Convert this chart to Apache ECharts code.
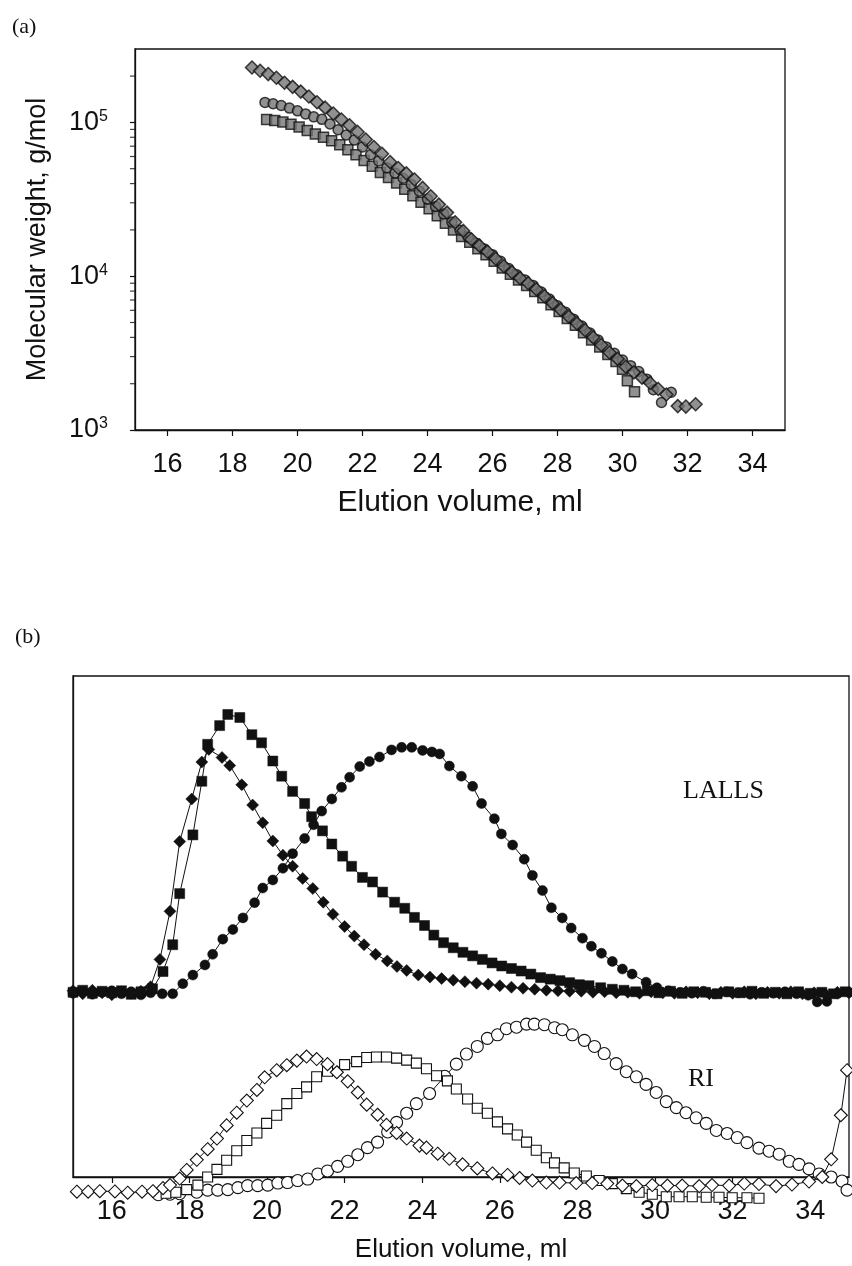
<!DOCTYPE html>
<html>
<head>
<meta charset="utf-8">
<script src="https://cdn.jsdelivr.net/npm/echarts@6/dist/echarts.min.js"></script>
<style>
  html, body { margin: 0; padding: 0; background: #fff; }
  #chart { width: 852px; height: 1266px; }
</style>
</head>
<body>
<div id="chart"></div>
<script>
// Tick values of the elution-volume axes (ml)
const volumeTicks = [16, 18, 20, 22, 24, 26, 28, 30, 32, 34];
// Minor ticks of the molecular-weight (log) axis, g/mol
const mwMinorTicks = [2000, 3000, 4000, 5000, 6000, 7000, 8000, 9000,
  20000, 30000, 40000, 50000, 60000, 70000, 80000, 90000, 200000];

// (a) Molecular weight vs elution volume: [volume ml, M g/mol]
const mwDiamonds = [
  [18.6,227500],[18.85,216800],[19.1,206100],[19.35,195000],[19.6,181100],[19.85,170200],
  [20.1,158500],[20.35,147200],[20.6,135200],[20.85,124700],[21.1,114300],[21.35,104500],
  [21.6,95700],[21.85,86700],[22.1,77300],[22.35,69200],[22.6,62500],[22.85,55200],
  [23.1,50500],[23.35,46600],[23.6,42500],[23.85,37500],[24.1,33100],[24.35,29200],
  [24.6,25900],[24.85,22400],[25.1,19700],[25.35,17400],[25.6,15800],[25.85,14400],
  [26.1,13000],[26.35,11600],[26.6,10600],[26.85,9700],[27.1,9000],[27.35,8220],
  [27.6,7400],[27.85,6680],[28.1,6050],[28.35,5460],[28.6,4930],[28.85,4450],
  [29.1,4000],[29.35,3570],[29.6,3190],[29.85,2900],[30.1,2580],[30.35,2370],
  [30.6,2190],[30.85,2020],[31.1,1850],[31.35,1700],[31.7,1430],[31.95,1420],[32.25,1470]
];
const mwCircles = [
  [19.0,134900],[19.25,132100],[19.5,128800],[19.75,123900],[20.0,118900],[20.25,113500],
  [20.5,108600],[20.75,104700],[21.0,97700],[21.25,89700],[21.5,82800],[21.75,76700],
  [22.0,69300],[22.25,61700],[22.5,56200],[22.75,50700],[23.0,46900],[23.25,43300],
  [23.5,39400],[23.75,35700],[24.0,31800],[24.25,28400],[24.5,25400],[24.75,22500],
  [25.0,19900],[25.25,17900],[25.5,16400],[25.75,15000],[26.0,13800],[26.25,12500],
  [26.5,11200],[26.75,10200],[27.0,9440],[27.25,8710],[27.5,7890],[27.75,7100],
  [28.0,6430],[28.25,5820],[28.5,5240],[28.75,4740],[29.0,4270],[29.25,3850],
  [29.5,3470],[29.75,3150],[30.0,2850],[30.25,2620],[30.5,2400],[30.75,2140],
  [30.95,1830],[31.2,1510],[31.5,1760]
];
const mwSquares = [
  [19.05,104500],[19.3,102800],[19.55,100500],[19.8,97300],[20.05,93300],[20.3,88700],
  [20.55,84100],[20.8,80000],[21.05,75900],[21.3,71600],[21.55,66400],[21.8,61700],
  [22.05,56600],[22.3,51900],[22.55,47300],[22.8,43800],[23.05,40300],[23.3,36700],
  [23.55,33400],[23.8,30200],[24.05,27400],[24.3,24700],[24.55,22100],[24.8,20000],
  [25.05,18100],[25.3,16600],[25.55,15100],[25.8,13800],[26.05,12500],[26.3,11300],
  [26.55,10300],[26.8,9440],[27.05,8710],[27.3,7940],[27.55,7240],[27.8,6530],
  [28.05,5890],[28.3,5310],[28.55,4790],[28.8,4290],[29.05,3850],[29.3,3470],
  [29.55,3100],[29.8,2790],[30.0,2480],[30.15,2090],[30.37,1770]
];

// (b) Detector signals (arbitrary units) vs elution volume: [volume ml, signal]
const lallsDiamonds = [
  [15.0,36.8],[15.25,36.2],[15.5,36.9],[15.75,36.4],[16.0,36.0],[16.25,36.6],[16.5,36.3],
  [16.75,36.7],[17.0,37.6],[17.24,43.0],[17.5,52.5],[17.75,66.3],[18.06,74.7],[18.32,82.0],
  [18.5,84.5],[18.84,82.9],[19.04,81.3],[19.35,77.5],[19.63,73.5],[19.89,70.0],[20.15,66.4],
  [20.41,63.6],[20.66,61.4],[20.92,59.0],[21.18,57.0],[21.45,54.3],[21.7,51.9],[22.0,49.5],
  [22.25,47.6],[22.5,45.9],[22.8,44.0],[23.1,42.7],[23.35,41.6],[23.6,40.8],[23.9,39.9],
  [24.2,39.5],[24.5,39.2],[24.8,38.9],[25.1,38.6],[25.4,38.3],[25.7,38.1],[26.0,37.8],
  [26.3,37.5],[26.6,37.3],[26.9,37.1],[27.2,36.9],[27.5,36.8],[27.8,36.7],[28.1,36.7],
  [28.4,36.5],[28.7,36.6],[29.0,36.4],[29.3,36.5],[29.6,36.3],[29.9,36.6],[30.2,36.4],
  [30.5,36.3],[30.8,36.6],[31.1,36.4],[31.4,36.2],[31.7,36.5],[32.0,36.3],[32.3,36.6],
  [32.6,36.2],[32.9,36.5],[33.2,36.3],[33.5,36.6],[33.8,36.2],[34.1,36.4],[34.4,36.1],
  [34.7,36.5],[35.0,36.4]
];
const lallsSquares = [
  [15.0,36.5],[15.25,36.9],[15.5,36.3],[15.75,36.7],[16.0,36.4],[16.25,36.8],[16.5,36.1],
  [16.75,36.6],[17.05,37.2],[17.32,40.6],[17.57,45.9],[17.75,56.0],[18.09,67.6],[18.32,78.2],
  [18.47,85.5],[18.78,89.2],[18.99,91.4],[19.3,90.8],[19.61,87.4],[19.86,85.8],[20.15,82.2],
  [20.38,79.2],[20.66,76.2],[20.97,73.8],[21.15,71.2],[21.43,68.4],[21.67,65.8],[21.95,63.4],
  [22.18,61.4],[22.46,59.2],[22.72,58.3],[22.98,56.3],[23.29,54.3],[23.55,53.1],[23.8,51.3],
  [24.06,49.7],[24.3,47.8],[24.55,46.3],[24.8,45.3],[25.05,44.4],[25.3,43.7],[25.55,43.0],
  [25.8,42.3],[26.05,41.7],[26.3,41.2],[26.55,40.7],[26.8,40.1],[27.05,39.4],[27.3,39.1],
  [27.55,38.8],[27.8,38.4],[28.05,38.0],[28.3,37.8],[28.6,37.4],[28.9,37.1],[29.2,36.9],
  [29.5,36.6],[29.8,36.8],[30.1,36.4],[30.4,36.7],[30.7,36.3],[31.0,36.6],[31.3,36.5],
  [31.6,36.2],[31.9,36.6],[32.2,36.4],[32.5,36.7],[32.8,36.3],[33.1,36.5],[33.4,36.2],
  [33.7,36.6],[34.0,36.3],[34.3,36.5],[34.6,36.2],[34.9,36.6]
];
const lallsCircles = [
  [15.0,36.3],[15.25,36.7],[15.5,36.1],[15.75,36.5],[16.0,36.8],[16.25,36.2],[16.5,36.6],
  [16.75,36.0],[17.0,36.4],[17.3,36.2],[17.57,36.2],[17.83,38.2],[18.09,39.9],[18.4,41.9],
  [18.6,44.0],[18.86,47.0],[19.12,48.9],[19.38,51.2],[19.68,54.2],[19.89,57.1],[20.15,58.7],
  [20.41,61.0],[20.66,63.9],[20.97,66.9],[21.2,69.6],[21.41,72.3],[21.67,74.7],[21.92,77.0],
  [22.13,79.0],[22.39,81.1],[22.64,82.1],[22.9,83.0],[23.21,84.4],[23.47,84.9],[23.73,84.9],
  [24.01,84.3],[24.25,84.0],[24.45,83.6],[24.7,81.2],[25.01,79.2],[25.3,77.2],[25.53,73.8],
  [25.86,70.8],[26.04,67.8],[26.33,65.6],[26.63,62.8],[26.84,59.6],[27.1,56.6],[27.33,53.2],
  [27.61,51.2],[27.84,49.2],[28.13,47.2],[28.36,45.6],[28.62,44.2],[28.9,42.6],[29.16,41.1],
  [29.41,40.1],[29.77,38.5],[30.05,37.4],[30.35,36.8],[30.65,36.5],[30.95,36.3],[31.25,36.7],
  [31.55,36.2],[31.85,36.6],[32.15,36.4],[32.45,36.1],[32.75,36.5],[33.05,36.3],[33.35,36.6],
  [33.65,36.2],[33.95,35.9],[34.18,34.6],[34.43,34.7],[34.7,36.2],[35.0,36.5]
];
const riDiamonds = [
  [15.1,-2.9],[15.39,-2.9],[15.69,-2.8],[16.08,-2.85],[16.41,-3.1],[16.78,-2.9],[17.06,-2.8],
  [17.32,-2.2],[17.5,-1.6],[17.75,-0.3],[17.93,1.4],[18.19,3.4],[18.47,5.5],[18.71,7.6],
  [18.96,10.2],[19.22,12.7],[19.48,15.1],[19.74,17.2],[19.94,19.7],[20.25,21.1],[20.51,22.1],
  [20.77,23.0],[21.02,23.8],[21.28,23.3],[21.56,22.3],[21.8,20.7],[22.08,18.9],[22.34,16.7],
  [22.57,14.3],[22.85,12.3],[23.08,10.3],[23.34,8.7],[23.6,7.6],[23.93,6.2],[24.11,5.8],
  [24.4,4.6],[24.7,3.6],[25.04,2.5],[25.42,1.7],[25.81,0.7],[26.2,0.4],[26.51,-0.2],
  [26.84,-0.7],[27.2,-1.1],[27.54,-1.1],[27.97,-1.2],[28.38,-1.2],[28.77,-1.3],[29.16,-1.7],
  [29.52,-1.8],[29.93,-1.6],[30.32,-1.7],[30.7,-1.7],[31.14,-1.8],[31.47,-1.6],[31.91,-1.7],
  [32.3,-1.3],[32.68,-1.4],[33.12,-1.8],[33.53,-1.5],[33.97,-0.9],[34.31,0.0],[34.54,3.5],
  [34.79,12.2],[34.95,21.1]
];
const riSquares = [
  [17.4,-3.2],[17.65,-3.0],[17.93,-2.5],[18.22,-1.6],[18.47,0.0],[18.71,1.5],[18.96,3.3],
  [19.22,5.2],[19.48,7.2],[19.74,8.7],[19.99,10.6],[20.25,12.2],[20.51,14.5],[20.77,16.5],
  [21.02,17.8],[21.28,19.8],[21.56,20.9],[22.0,22.2],[22.31,22.8],[22.57,23.6],[22.82,23.7],
  [23.08,23.7],[23.34,23.5],[23.6,23.1],[23.85,22.5],[24.11,21.4],[24.37,20.0],[24.65,19.0],
  [24.88,17.4],[25.17,15.4],[25.42,13.6],[25.68,12.6],[25.94,10.9],[26.2,9.5],[26.45,8.3],
  [26.69,6.9],[26.94,5.3],[27.2,3.8],[27.41,2.8],[27.66,1.8],[27.92,0.8],[28.23,0.2],
  [28.56,-0.7],[28.9,-1.3],[29.26,-2.3],[29.59,-3.0],[29.93,-3.4],[30.29,-3.9],[30.62,-3.9],
  [30.96,-3.9],[31.32,-4.0],[31.65,-4.0],[31.99,-4.1],[32.37,-4.1],[32.68,-4.2]
];
const riCircles = [
  [17.2,-3.5],[17.5,-3.4],[17.75,-3.3],[18.19,-3.0],[18.47,-2.6],[18.73,-2.6],[18.99,-2.5],
  [19.25,-2.1],[19.5,-1.7],[19.76,-1.7],[20.02,-1.6],[20.28,-1.2],[20.53,-1.1],[20.79,-0.7],
  [21.05,-0.4],[21.31,0.6],[21.56,1.2],[21.82,2.1],[22.08,3.1],[22.34,4.4],[22.59,5.8],
  [22.85,6.9],[23.11,8.9],[23.34,10.8],[23.6,12.6],[23.85,14.5],[24.19,16.5],[24.58,19.9],
  [24.88,22.3],[25.14,24.3],[25.42,25.8],[25.68,27.4],[25.94,28.1],[26.17,29.3],[26.43,29.6],
  [26.69,30.2],[26.89,30.2],[27.15,30.1],[27.41,29.5],[27.61,29.1],[27.87,28.1],[28.18,27.0],
  [28.44,25.8],[28.69,24.4],[29.0,22.4],[29.26,20.8],[29.52,19.8],[29.77,18.3],[30.03,16.7],
  [30.29,14.9],[30.55,13.7],[30.8,12.7],[31.06,11.7],[31.32,10.6],[31.58,9.2],[31.86,8.6],
  [32.12,7.8],[32.37,6.8],[32.68,5.7],[32.94,5.1],[33.2,4.5],[33.46,3.1],[33.71,2.5],
  [33.97,1.6],[34.23,0.6],[34.54,0.0],[34.82,-0.8],[34.95,-2.6]
];

const INK = '#111';
const SANS = 'Liberation Sans, Arial, Helvetica, sans-serif';
const SERIF = 'Liberation Serif, Times New Roman, serif';

const chart = echarts.init(document.getElementById('chart'), null, { renderer: 'canvas' });

function volumeAxis(gridIndex, nameGap, nameSize) {
  return {
    gridIndex: gridIndex,
    type: 'value',
    min: 15,
    max: 35,
    axisLine: { show: true, onZero: false, lineStyle: { color: INK, width: 1.3 } },
    axisTick: { show: true, customValues: volumeTicks, inside: false, length: 6, lineStyle: { color: INK, width: 1.2 } },
    axisLabel: { show: true, customValues: volumeTicks, margin: 21, fontSize: 27, fontFamily: SANS, color: INK },
    splitLine: { show: false },
    name: 'Elution volume, ml',
    nameLocation: 'middle',
    nameGap: nameGap,
    nameTextStyle: { fontSize: nameSize, fontFamily: SANS, color: INK }
  };
}

// scatter marks of panel (a): hatched-grey symbols with dark outline
function mwSeries(name, data, symbol, size) {
  return {
    name: name, type: 'scatter', xAxisIndex: 0, yAxisIndex: 0,
    data: data, symbol: symbol, symbolSize: size,
    itemStyle: { color: '#767676', borderColor: INK, borderWidth: 1.5 },
    emphasis: { disabled: true }, z: 3
  };
}

// connected traces of panel (b)
function traceSeries(name, data, symbol, size, filled) {
  return {
    name: name, type: 'line', xAxisIndex: 1, yAxisIndex: 1,
    data: data, symbol: symbol, symbolSize: size, showSymbol: true,
    clip: false,
    lineStyle: { color: INK, width: 1 },
    itemStyle: filled
      ? { color: INK, borderColor: INK, borderWidth: 0.5 }
      : { color: '#fff', borderColor: INK, borderWidth: 1.1 },
    emphasis: { disabled: true }, z: filled ? 4 : 3
  };
}

const option = {
  animation: false,
  backgroundColor: '#fff',
  grid: [
    { left: 135, top: 49, width: 650, height: 381, show: true, borderColor: INK, borderWidth: 1.3, backgroundColor: 'transparent' },
    { left: 73, top: 676, width: 776, height: 501, show: true, borderColor: INK, borderWidth: 1.3, backgroundColor: 'transparent' }
  ],
  xAxis: [ volumeAxis(0, 58, 30), volumeAxis(1, 60, 26) ],
  yAxis: [
    {
      gridIndex: 0,
      type: 'log',
      logBase: 10,
      min: 1000,
      max: 300000,
      axisLine: { show: true, lineStyle: { color: INK, width: 1.3 } },
      axisTick: { show: true, inside: false, length: 5, lineStyle: { color: INK, width: 1.2 } },
      axisLabel: {
        show: true,
        margin: 27,
        showMaxLabel: false,
        formatter: function (v) {
          const e = Math.log10(v);
          if (Math.abs(e - Math.round(e)) > 0.01) return '';
          return '{b|10}{s|' + Math.round(e) + '}';
        },
        rich: {
          b: { fontSize: 27, fontFamily: SANS, color: INK, lineHeight: 28 },
          s: { fontSize: 16, fontFamily: SANS, color: INK, lineHeight: 16, verticalAlign: 'top' }
        }
      },
      splitLine: { show: false },
      minorTick: { show: false },
      name: 'Molecular weight, g/mol',
      nameLocation: 'middle',
      nameRotate: 90,
      nameGap: 84,
      nameTextStyle: { fontSize: 27, fontFamily: SANS, color: INK }
    },
    {
      gridIndex: 1,
      type: 'value',
      min: 0,
      max: 99,
      axisLine: { show: true, lineStyle: { color: INK, width: 1.3 } },
      axisTick: { show: false },
      axisLabel: { show: false },
      splitLine: { show: false }
    }
  ],
  series: [
    // minor ticks of the log axis, placed through the axis scale at the left edge
    {
      name: 'minor ticks', type: 'scatter', xAxisIndex: 0, yAxisIndex: 0,
      data: mwMinorTicks.map(function (m) { return [15, m]; }),
      symbol: 'rect', symbolSize: [5, 1.2], symbolOffset: [-2.5, 0],
      itemStyle: { color: INK }, clip: false, silent: true, z: 5
    },
    mwSeries('squares', mwSquares, 'rect', 10),
    mwSeries('circles', mwCircles, 'circle', 10),
    mwSeries('diamonds', mwDiamonds, 'diamond', 13),

    traceSeries('RI circles', riCircles, 'circle', 12, false),
    traceSeries('RI squares', riSquares, 'rect', 10, false),
    traceSeries('RI diamonds', riDiamonds, 'diamond', 13, false),
    traceSeries('LALLS circles', lallsCircles, 'circle', 10, true),
    traceSeries('LALLS squares', lallsSquares, 'rect', 10, true),
    traceSeries('LALLS diamonds', lallsDiamonds, 'diamond', 12, true)
  ],
  graphic: [
    { type: 'text', x: 12, y: 27, style: { text: '(a)', font: '22px ' + SERIF, fill: INK, textVerticalAlign: 'middle' } },
    { type: 'text', x: 15, y: 637, style: { text: '(b)', font: '22px ' + SERIF, fill: INK, textVerticalAlign: 'middle' } },
    { type: 'text', x: 683, y: 791, style: { text: 'LALLS', font: '26px ' + SERIF, fill: INK, textVerticalAlign: 'middle' } },
    { type: 'text', x: 688, y: 1079, style: { text: 'RI', font: '26px ' + SERIF, fill: INK, textVerticalAlign: 'middle' } }
  ]
};

chart.setOption(option);
</script>
</body>
</html>
